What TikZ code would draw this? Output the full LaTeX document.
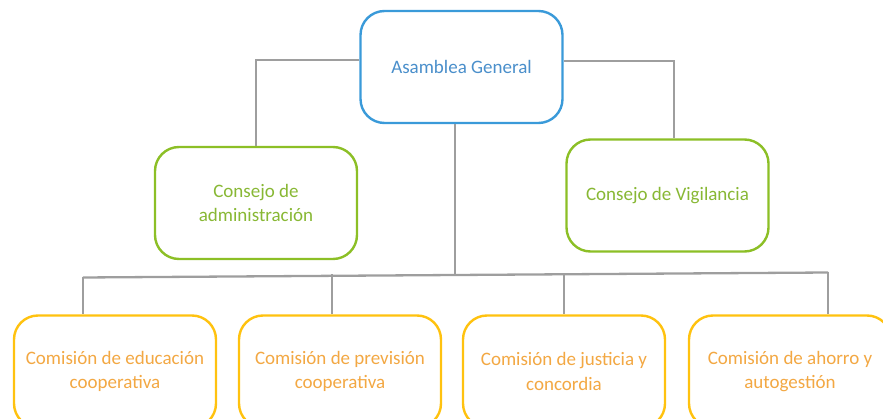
\documentclass[tikz,border=0pt]{standalone}
\usepackage{fontspec}
\setmainfont{Carlito}
\definecolor{lnk}{HTML}{9E9E9E}
\definecolor{bluB}{HTML}{3A9AD9}
\definecolor{bluT}{HTML}{4A8FCB}
\definecolor{grnB}{HTML}{8CBF26}
\definecolor{grnT}{HTML}{88B834}
\definecolor{ylwB}{HTML}{FFC20F}
\definecolor{ylwT}{HTML}{F3A843}
\begin{document}
\begin{tikzpicture}[x=1pt,y=-1pt,
  orgbox/.style={draw, line width=2.4pt, rounded corners=24pt, minimum width=202pt, minimum height=112pt, align=center, inner sep=0pt, font=\fontsize{19}{24.5}\selectfont, fill=white},
  topbox/.style={orgbox, draw=bluB, text=bluT},
  midbox/.style={orgbox, draw=grnB, text=grnT},
  lowbox/.style={orgbox, draw=ylwB, text=ylwT},
  link/.style={draw=lnk, line width=2.3pt}]
\useasboundingbox (0,0) rectangle (883,419);
\clip (0,0) rectangle (883,419);
\coordinate (bl) at (83,277.5);
\coordinate (br) at (828,272.5);
\coordinate (bm) at (455,275);
\coordinate (aL) at (256,60);
\coordinate (aR) at (674,61);
\coordinate (v2) at (332,274.5);
\coordinate (v3) at (564,273.5);
\node[topbox] (ag) at (461.5,67) {Asamblea General};
\node[midbox] (ca) at (256,203) {Consejo de\\administración};
\node[midbox] (cv) at (667.5,195.5) {Consejo de Vigilancia};
\node[lowbox] (c1) at (115,371.5) {Comisión de educación\\cooperativa};
\node[lowbox] (c2) at (340,371.5) {Comisión de previsión\\cooperativa};
\node[lowbox] (c3) at (564,371.5) {Comisión de justicia y\\concordia};
\node[lowbox] (c4) at (790,371.5) {Comisión de ahorro y\\autogestión};
\draw[link] (ag.west |- aL) -- (aL) -- (aL |- ca.north);
\draw[link] (ag.east |- aR) -- (aR) -- (aR |- cv.north);
\draw[link] (ag.south -| bm) -- (bm);
\draw[link] (bl) -- (br);
\draw[link] (bl) -- (bl |- c1.north);
\draw[link] (v2) -- (v2 |- c2.north);
\draw[link] (v3) -- (v3 |- c3.north);
\draw[link] (br) -- (br |- c4.north);
\end{tikzpicture}
\end{document}
